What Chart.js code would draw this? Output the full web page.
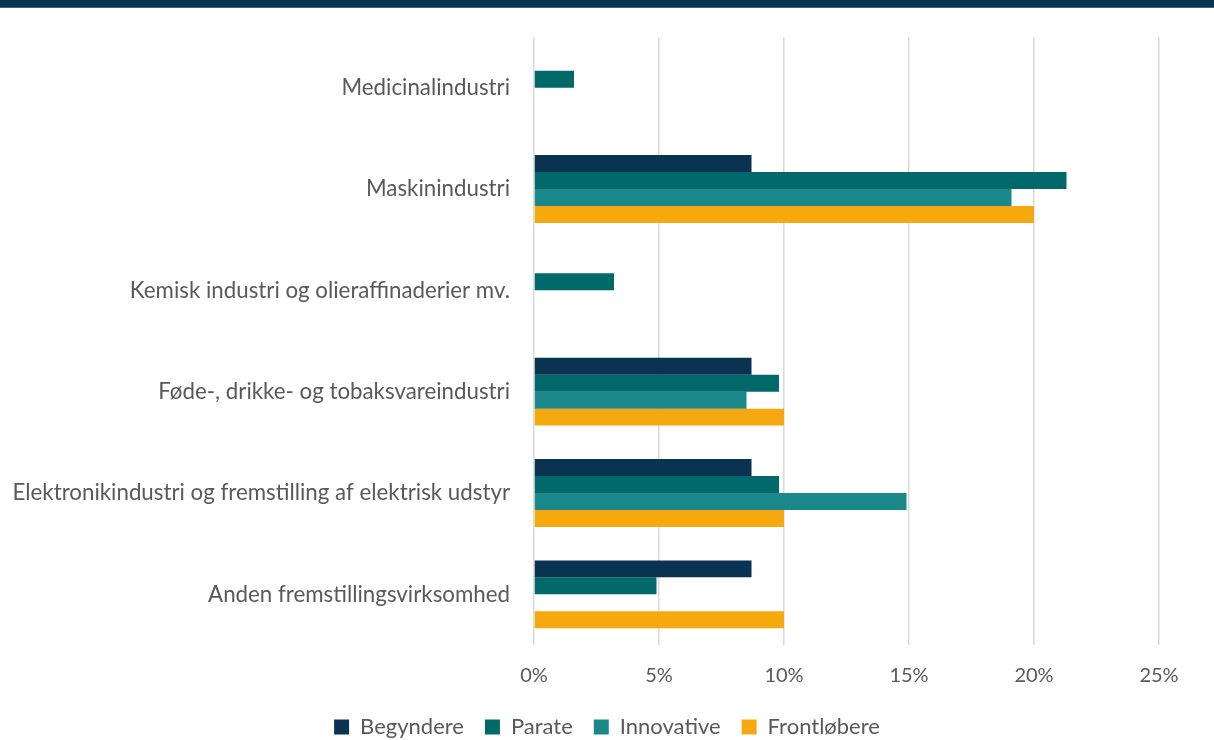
<!DOCTYPE html>
<html>
<head>
<meta charset="utf-8">
<script src="https://cdn.jsdelivr.net/npm/chart.js@4/dist/chart.umd.min.js"></script>
<style>
html,body{margin:0;padding:0;background:#fff;}
#topbar{height:8px;background:#0a3352;border-bottom:1px solid #2a6f7a;box-sizing:border-box;}
#wrap{position:relative;width:1214px;height:732px;}
</style>
</head>
<body>
<div id="topbar"></div>
<div id="wrap"><canvas id="c" width="1214" height="732"></canvas></div>
<script>
const categories = [
  "Medicinalindustri",
  "Maskinindustri",
  "Kemisk industri og olieraffinaderier mv.",
  "Føde-, drikke- og tobaksvareindustri",
  "Elektronikindustri og fremstilling af elektrisk udstyr",
  "Anden fremstillingsvirksomhed"
];
const seriesNames = ["Begyndere", "Parate", "Innovative", "Frontløbere"];
const begyndere   = [0, 8.7, 0, 8.7, 8.7, 8.7];
const parate      = [1.6, 21.3, 3.2, 9.8, 9.8, 4.9];
const innovative  = [0, 19.1, 0, 8.5, 14.9, 0];
const frontloebere= [0, 20.0, 0, 10.0, 10.0, 10.0];
const xTicks = [0, 5, 10, 15, 20, 25];
const colors = ["#0a3352", "#02696a", "#1b898b", "#f5a90e"];

const FONT = "Lato";
const TXT = "#595959";
const values = [begyndere, parate, innovative, frontloebere];

const legendHeightFix = {
  id: "legendHeightFix",
  afterInit(chart) {
    const lg = chart.legend;
    if (!lg) return;
    const orig = lg.fit;
    lg.fit = function () { orig.call(this); this.height = 45; };
  }
};

new Chart(document.getElementById("c"), {
  type: "bar",
  data: {
    labels: categories,
    datasets: seriesNames.map((n, i) => ({
      label: n,
      data: values[i],
      backgroundColor: colors[i],
      borderWidth: 0,
      categoryPercentage: 0.67,
      barPercentage: 1.0
    }))
  },
  plugins: [legendHeightFix],
  options: {
    indexAxis: "y",
    responsive: false,
    animation: false,
    layout: { padding: { left: 0, right: 0, top: 29, bottom: 0 } },
    scales: {
      x: {
        min: 0, max: 25,
        afterBuildTicks: s => { s.ticks = xTicks.map(v => ({ value: v })); },
        grid: { color: "#d9d9d9", lineWidth: 1.5, drawTicks: false },
        border: { display: false },
        ticks: {
          padding: 19,
          color: TXT,
          font: { family: FONT, size: 20 },
          callback: v => v + "%"
        },
        afterFit: s => { s.height = 50; s.paddingRight = 55; s.paddingLeft = 0; }
      },
      y: {
        grid: { display: false, drawTicks: false },
        border: { display: false },
        ticks: {
          padding: 24,
          color: TXT,
          font: { family: FONT, size: 22.3 }
        },
        afterFit: s => { s.width = 534; s.paddingTop = 0; s.paddingBottom = 0; }
      }
    },
    plugins: {
      legend: {
        position: "bottom",
        labels: {
          boxWidth: 15, boxHeight: 15,
          padding: 21,
          color: TXT,
          font: { family: FONT, size: 22 }
        }
      },
      tooltip: { enabled: false }
    }
  }
});
</script>
</body>
</html>
